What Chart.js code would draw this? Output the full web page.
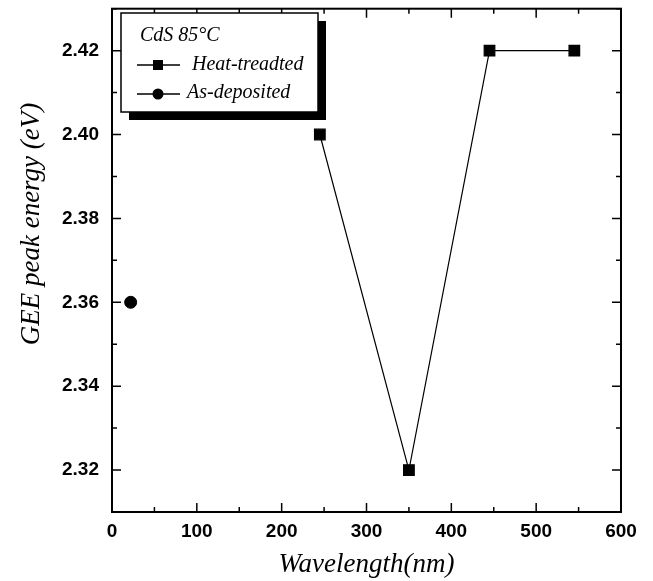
<!DOCTYPE html>
<html>
<head>
<meta charset="utf-8">
<script src="https://cdn.jsdelivr.net/npm/chart.js@4"></script>
<style>
  html, body { margin: 0; padding: 0; background: #fff; }
  #wrap { width: 653px; height: 581px; }
</style>
</head>
<body>
<div id="wrap"><canvas id="grafico"></canvas></div>
<script>
// dados
const heatX = [245, 350, 445, 545];
const heatY = [2.40, 2.32, 2.42, 2.42];
const asDepX = [22];
const asDepY = [2.36];

const xTicks = [0, 100, 200, 300, 400, 500, 600];
const xMinor = [50, 150, 250, 350, 450, 550];
const yTicks = [2.32, 2.34, 2.36, 2.38, 2.40, 2.42];
const yMinor = [2.31, 2.33, 2.35, 2.37, 2.39, 2.41, 2.43];

const serif = '"Liberation Serif", "Times New Roman", serif';
const sans = '"Liberation Sans", Arial, sans-serif';

function pontos(xs, ys){
  return xs.map((x, i) => ({x: x, y: ys[i]}));
}

// moldura, ticks para dentro, titulos e legenda
const moldura = {
  id: 'moldura',
  afterDraw(chart){
    const ctx = chart.ctx;
    const a = chart.chartArea;
    const sx = chart.scales.x, sy = chart.scales.y;
    ctx.save();
    ctx.strokeStyle = '#000';
    ctx.lineWidth = 2;
    ctx.strokeRect(a.left, a.top, a.right - a.left, a.bottom - a.top);

    ctx.lineWidth = 1.5;
    ctx.beginPath();
    const tickX = (v, len) => {
      const px = sx.getPixelForValue(v);
      ctx.moveTo(px, a.bottom); ctx.lineTo(px, a.bottom - len);
      ctx.moveTo(px, a.top); ctx.lineTo(px, a.top + len);
    };
    const tickY = (v, len) => {
      const py = sy.getPixelForValue(v);
      ctx.moveTo(a.left, py); ctx.lineTo(a.left + len, py);
      ctx.moveTo(a.right, py); ctx.lineTo(a.right - len, py);
    };
    xTicks.forEach(v => tickX(v, 9));
    xMinor.forEach(v => tickX(v, 5));
    yTicks.forEach(v => tickY(v, 9));
    yMinor.forEach(v => tickY(v, 5));
    ctx.stroke();

    // titulos dos eixos
    ctx.fillStyle = '#000';
    ctx.font = 'italic 27px ' + serif;
    ctx.textAlign = 'center';
    ctx.textBaseline = 'middle';
    ctx.fillText('Wavelength(nm)', (a.left + a.right) / 2, 565);
    ctx.save();
    ctx.translate(32, 224);
    ctx.rotate(-Math.PI / 2);
    ctx.fillText('GEE peak energy (eV)', 0, 0);
    ctx.restore();

    // legenda com sombra
    const bx = 121, by = 13, bw = 197, bh = 99;
    ctx.fillRect(bx + 8, by + 8, bw, bh);
    ctx.fillStyle = '#fff';
    ctx.fillRect(bx, by, bw, bh);
    ctx.lineWidth = 1.5;
    ctx.strokeRect(bx, by, bw, bh);

    ctx.fillStyle = '#000';
    ctx.textAlign = 'left';
    ctx.textBaseline = 'alphabetic';
    ctx.font = 'italic 20px ' + serif;
    ctx.fillText('CdS 85\u00B0C', 140, 41);
    ctx.fillText('Heat-treadted', 192, 70);
    ctx.fillText('As-deposited', 187, 98);

    ctx.lineWidth = 1.5;
    ctx.beginPath();
    ctx.moveTo(137, 65); ctx.lineTo(180, 65);
    ctx.moveTo(137, 94); ctx.lineTo(180, 94);
    ctx.stroke();
    ctx.fillRect(153, 60, 10, 10);
    ctx.beginPath();
    ctx.arc(158, 94, 5.5, 0, Math.PI * 2);
    ctx.fill();
    ctx.restore();
  }
};

const config = {
  type: 'line',
  data: {
    datasets: [
      {
        label: 'Heat-treadted',
        data: pontos(heatX, heatY),
        borderColor: '#000',
        backgroundColor: '#000',
        borderWidth: 1.2,
        pointStyle: 'rect',
        pointRadius: 7.5,
        pointHoverRadius: 7.5,
        tension: 0
      },
      {
        label: 'As-deposited',
        data: pontos(asDepX, asDepY),
        borderColor: '#000',
        backgroundColor: '#000',
        showLine: false,
        pointStyle: 'circle',
        pointRadius: 6,
        pointHoverRadius: 6
      }
    ]
  },
  options: {
    responsive: true,
    maintainAspectRatio: false,
    animation: false,
    events: [],
    layout: { padding: { top: 6, right: 32, left: 0, bottom: 0 } },
    plugins: {
      legend: { display: false },
      tooltip: { enabled: false }
    },
    scales: {
      x: {
        type: 'linear',
        min: 0,
        max: 600,
        grid: { display: false, drawTicks: false },
        border: { display: false },
        afterBuildTicks: s => { s.ticks = xTicks.map(v => ({value: v})); },
        afterFit: s => { s.height = 69; s.paddingLeft = 0; s.paddingRight = 0; },
        ticks: {
          color: '#000',
          padding: 8,
          font: { family: sans, size: 19, weight: 'bold' },
          maxRotation: 0
        }
      },
      y: {
        type: 'linear',
        min: 2.31,
        max: 2.43,
        grid: { display: false, drawTicks: false },
        border: { display: false },
        afterBuildTicks: s => { s.ticks = yTicks.map(v => ({value: v})); },
        afterFit: s => { s.width = 112; s.paddingTop = 0; s.paddingBottom = 0; },
        ticks: {
          color: '#000',
          padding: 13,
          font: { family: sans, size: 19, weight: 'bold' },
          callback: v => v.toFixed(2)
        }
      }
    }
  },
  plugins: [moldura]
};

new Chart(document.getElementById('grafico'), config);
</script>
</body>
</html>
